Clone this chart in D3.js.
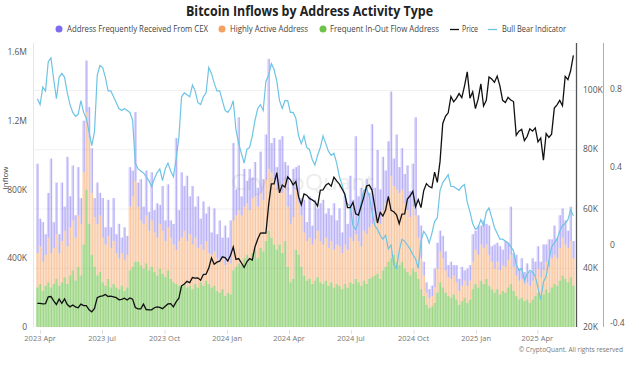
<!DOCTYPE html>
<html><head><meta charset="utf-8">
<script src="https://cdn.jsdelivr.net/npm/d3@7"></script>
<style>body{margin:0;background:#fff;} svg{display:block;font-family:"Open Sans",sans-serif;}</style>
</head><body><svg id="c" width="639" height="365"></svg>
<script>
// ---- data (sampled every 4 days starting 2023-03-26) ----
const startDate = "2023-03-26";
const stepDays = 4;
const endDate = "2025-05-22";
// BTC price, thousands USD
const price = [28.0,28.0,27.8,27.9,30.2,30.3,28.8,27.6,29.4,28.0,29.5,27.6,26.8,27.4,26.8,26.5,27.7,27.2,27.2,25.8,25.1,26.3,29.9,30.3,30.5,31.0,30.3,30.4,30.2,29.9,29.2,29.3,29.7,29.1,29.8,29.4,26.6,26.1,26.1,27.7,25.9,25.8,25.8,26.5,26.8,26.6,26.2,27.0,27.8,27.9,26.8,28.5,29.7,33.9,34.5,35.4,35.0,36.7,36.5,36.6,35.8,37.7,37.8,39.9,43.3,41.2,41.9,42.2,43.7,43.4,42.3,
44.2,47.0,42.8,43.1,41.6,40.1,42.0,43.1,42.6,47.1,49.7,51.7,51.8,51.7,61.2,68.3,68.3,72.1,65.3,67.9,67.2,70.7,69.7,68.0,69.1,64.0,61.3,64.9,64.5,63.4,62.9,62.3,60.8,66.2,66.3,67.9,68.5,67.5,70.6,69.3,68.2,66.6,64.9,60.3,60.3,62.1,58.2,57.8,60.8,63.9,67.6,67.9,66.2,60.7,55.1,58.7,57.5,59.5,64.1,59.4,58.9,57.9,54.9,58.1,58.2,63.2,64.3,65.8,60.6,63.0,60.3,66.0,68.4,67.4,67.0,72.3,68.8,75.9,88.7,91.1,92.3,97.8,96.0,97.2,98.8,97.4,101.4,106.1,97.2,99.4,93.7,
96.9,102.1,94.6,96.5,104.4,103.7,102.6,104.7,101.4,96.5,95.8,97.5,96.6,96.1,84.7,86.1,86.7,82.9,84.3,86.9,86.1,87.2,82.5,83.8,76.3,85.3,84.0,85.1,93.9,95.0,96.5,94.7,104.6,103.5,106.5,111.7];
const bullBear = [0.75,0.72,0.81,0.79,0.94,0.96,0.85,0.75,0.86,0.88,
0.86,0.78,0.72,0.68,0.66,0.67,0.74,0.68,0.65,0.58,
0.51,0.58,0.87,0.92,0.91,0.86,0.79,0.79,0.76,0.73,
0.70,0.69,0.70,0.69,0.68,0.64,0.42,0.39,0.38,0.37,
0.35,0.33,0.30,0.34,0.37,0.39,0.33,0.39,0.42,0.38,
0.35,0.44,0.55,0.76,0.78,0.77,0.76,0.82,0.79,0.73,
0.72,0.76,0.78,0.91,0.88,0.83,0.79,0.79,0.74,0.69,
0.68,0.70,0.74,0.59,0.52,0.47,0.42,0.49,0.50,0.56,
0.64,0.70,0.72,0.69,0.84,0.87,0.93,0.90,0.84,0.74,
0.70,0.74,0.74,0.68,0.68,0.65,0.56,0.52,0.56,0.50,
0.49,0.44,0.41,0.46,0.50,0.56,0.52,0.48,0.46,0.47,
0.42,0.35,0.31,0.25,0.21,0.20,0.10,0.08,0.12,0.22,
0.28,0.29,0.25,0.17,0.10,0.08,0.05,0.03,0.05,-0.02,
0.00,-0.10,-0.12,-0.03,0.03,0.02,0.00,-0.02,-0.05,-0.07,
-0.12,0.02,0.07,0.05,0.01,0.06,0.12,0.14,0.28,0.32,
0.34,0.36,0.30,0.30,0.29,0.28,0.30,0.31,0.22,0.17,
0.11,0.08,0.09,0.13,0.10,0.17,0.19,0.14,0.09,0.06,
0.03,0.03,0.02,0.01,-0.01,-0.03,-0.10,-0.13,-0.12,-0.18,
-0.15,-0.13,-0.14,-0.16,-0.22,-0.28,-0.19,-0.16,-0.08,-0.01,
0.01,0.03,0.07,0.10,0.11,0.13,0.18,0.15];
// inflows in thousands (stacked: green bottom, orange middle, purple top)
const frequentInOut = [230,250,210,240,260,230,250,280,240,260,290,250,300,330,270,350,300,480,800,600,420,350,300,320,260,240,280,230,250,230,220,240,210,230,330,350,380,380,360,340,370,330,350,320,300,340,310,290,330,280,260,250,240,240,250,230,240,220,250,230,260,240,270,250,230,240,210,200,220,180,200,190,330,350,370,360,400,420,390,430,450,400,460,440,500,560,520,480,450,480,430,500,350,260,280,450,420,350,300,270,280,250,270,290,260,250,270,240,260,230,250,240,220,250,230,260,250,280,260,240,270,250,280,290,300,310,280,330,350,380,400,420,380,360,380,340,320,300,340,320,280,220,180,130,110,120,140,200,260,230,200,180,170,190,160,130,150,170,140,160,220,250,230,270,250,280,240,220,200,220,190,210,200,230,250,210,180,160,170,150,160,140,160,180,200,170,190,220,200,230,250,240,270,300,280,260,290,240];
const highlyActive = [200,220,170,180,260,200,210,260,190,240,270,220,280,290,250,300,300,420,450,500,360,290,300,330,260,240,250,230,250,200,180,190,180,190,370,410,470,320,260,260,280,230,270,230,220,260,250,210,250,240,220,200,260,280,310,270,300,260,270,230,220,210,230,180,190,200,190,180,180,180,190,180,290,300,310,290,300,300,290,320,310,300,320,300,360,360,380,380,350,340,350,350,350,340,360,350,300,300,250,230,240,230,240,270,240,230,250,220,240,220,230,230,210,230,220,260,250,260,240,230,290,290,300,310,320,340,320,350,370,380,480,400,420,420,420,380,360,340,360,330,240,180,120,70,60,60,90,140,180,170,130,110,110,110,100,80,90,100,100,110,160,200,190,210,210,200,180,160,140,160,140,150,150,160,170,140,120,110,110,100,100,100,110,120,140,120,140,160,150,170,170,160,190,220,200,200,210,160];
const cexInflow = [520,160,230,120,260,550,150,300,110,340,140,520,180,320,130,280,150,300,300,180,260,110,240,130,230,100,210,120,250,110,200,90,190,110,230,150,400,140,240,100,260,110,280,130,200,110,260,120,250,100,
120,650,180,380,260,380,220,340,180,300,150,280,160,270,130,250,140,240,120,230,130,250,450,150,540,110,220,130,240,120,200,110,240,120,260,640,170,240,130,270,330,110,240,170,280,130,220,100,190,110,
240,110,230,130,220,260,140,230,150,270,140,220,120,280,150,360,240,570,260,340,220,320,200,580,190,380,200,310,190,320,490,160,320,150,240,170,260,150,250,570,130,190,80,60,50,60,110,150,120,130,
110,70,100,60,100,70,110,60,100,90,160,110,170,110,160,120,170,90,140,110,140,90,150,100,280,80,120,70,120,70,110,80,130,80,130,90,150,100,160,110,170,120,190,170,140,100,200,100];
const leftTicks = [0,400,800,1200,1600];
const leftTickLabels = ["0","400K","800K","1.2M","1.6M"];
const priceTicks = [20,40,60,80,100];
const priceTickLabels = ["20K","40K","60K","80K","100K"];
const bbTicks = [-0.4,0,0.4,0.8];
const bbTickLabels = ["-0.4","0","0.4","0.8"];
const xTickDates = ["2023-04-01","2023-07-01","2023-10-01","2024-01-01","2024-04-01","2024-07-01","2024-10-01","2025-01-01","2025-04-01"];
const xTickLabels = ["2023 Apr","2023 Jul","2023 Oct","2024 Jan","2024 Apr","2024 Jul","2024 Oct","2025 Jan","2025 Apr"];
const seriesNames = ["Address Frequently Received From CEX","Highly Active Address","Frequent In-Out Flow Address","Price","Bull Bear Indicator"];
const colors = {cex:"#7b6cf0", active:"#f4a261", inout:"#6cc24a", price:"#111", bb:"#6ec4e4"};
const fillOpacity = {cex:0.28, active:0.36, inout:0.48};

// ---- build ----
const parse = d3.utcParse("%Y-%m-%d");
const t0 = parse(startDate);
const dates = price.map((_, i) => d3.utcDay.offset(t0, i * stepDays));
const svg = d3.select("#c");
const L = 36, R = 572, TOP = 43, BOT = 327;

const x = d3.scaleUtc().domain([t0, parse(endDate)]).range([L, R]);
const yL = d3.scaleLinear().domain([0, 1600]).range([BOT, 52]);
const yP = d3.scaleLinear().domain([20, 100]).range([BOT, 90]);
const yB = d3.scaleLinear().domain([-0.4, 0.8]).range([323, 89]);

svg.append("defs").append("clipPath").attr("id","clip").append("rect")
  .attr("x", 33).attr("y", TOP).attr("width", 576-33).attr("height", BOT-TOP);

// gridlines
svg.append("g").selectAll("line").data(priceTicks.slice(1)).join("line")
  .attr("x1", 34).attr("x2", 576).attr("y1", d=>yP(d)+0.5).attr("y2", d=>yP(d)+0.5)
  .attr("stroke", "#f1f1f1");

// watermark
svg.append("text").attr("x", 231).attr("y", 190).attr("font-size", 22).attr("fill", "#000")
  .attr("opacity", 0.07).attr("textLength", 143).attr("lengthAdjust","spacingAndGlyphs").text("CryptoQuant");

// bars
const step = x(dates[1]) - x(dates[0]);
const stackData = dates.map((d,i)=>({date:d, inout:frequentInOut[i], active:highlyActive[i], cex:cexInflow[i]}));
const stacked = d3.stack().keys(["inout","active","cex"])(stackData);
const gBars = svg.append("g").attr("clip-path","url(#clip)");
const layers = gBars.selectAll("g").data(stacked).join("g").attr("fill", d => colors[d.key]);
layers.selectAll("rect.b").data(d => d.map(v => ({v, k:d.key}))).join("rect").attr("class","b")
  .attr("fill-opacity", d => fillOpacity[d.k])
  .attr("x", d => x(d.v.data.date))
  .attr("width", step)
  .attr("y", d => yL(d.v[1]))
  .attr("height", d => yL(d.v[0]) - yL(d.v[1]));
layers.selectAll("rect.s").data(d => d.map(v => ({v, k:d.key}))).join("rect").attr("class","s")
  .attr("fill-opacity", 0.45)
  .attr("x", d => x(d.v.data.date) + step*0.55)
  .attr("width", 0.8)
  .attr("y", d => yL(d.v[1]))
  .attr("height", d => yL(d.v[0]) - yL(d.v[1]));

// bull bear & price lines
const gLines = svg.append("g").attr("clip-path","url(#clip)");
gLines.append("path").datum(bullBear)
  .attr("fill","none").attr("stroke", colors.bb).attr("stroke-width", 1.2)
  .attr("d", d3.line().x((d,i)=>x(dates[i])+step/2).y(d=>yB(d)));
gLines.append("path").datum(price)
  .attr("fill","none").attr("stroke", colors.price).attr("stroke-width", 1.3)
  .attr("d", d3.line().x((d,i)=>x(dates[i])+step/2).y(d=>yP(d)));

// axis lines
svg.append("line").attr("x1",33.5).attr("x2",33.5).attr("y1",TOP).attr("y2",BOT).attr("stroke","#e6e6e6");
svg.append("line").attr("x1",576.5).attr("x2",576.5).attr("y1",TOP).attr("y2",BOT).attr("stroke","#555").attr("stroke-width",1.3);
svg.append("line").attr("x1",603.5).attr("x2",603.5).attr("y1",TOP).attr("y2",BOT).attr("stroke",colors.bb);

const tickFont = 8.5, tickCol = "#555";
svg.append("g").selectAll("text").data(leftTicks).join("text")
  .attr("x", 27).attr("y", d=>yL(d)+3).attr("text-anchor","end")
  .attr("font-size", tickFont).attr("fill", tickCol).text((d,i)=>leftTickLabels[i]);
svg.append("g").selectAll("text").data(priceTicks).join("text")
  .attr("x", 583).attr("y", d=>yP(d)+3).attr("font-size", tickFont).attr("fill", tickCol)
  .text((d,i)=>priceTickLabels[i]);
svg.append("g").selectAll("text").data(bbTicks).join("text")
  .attr("x", 610).attr("y", d=>yB(d)+3).attr("font-size", tickFont).attr("fill", tickCol)
  .text((d,i)=>bbTickLabels[i]);

// x axis
const xt = xTickDates.map(parse);
svg.append("g").selectAll("line").data(xt).join("line")
  .attr("x1", d=>x(d)+0.5).attr("x2", d=>x(d)+0.5).attr("y1", 330).attr("y2", 334)
  .attr("stroke", "#ddd");
svg.append("g").selectAll("text").data(xt).join("text")
  .attr("x", d=>x(d)).attr("y", 341).attr("text-anchor","middle")
  .attr("font-size", 7.5).attr("fill", "#777").text((d,i)=>xTickLabels[i]);

// y label
svg.append("text").attr("transform","translate(8,178) rotate(-90)").attr("text-anchor","middle")
  .attr("font-size", 8).attr("fill","#444").text("Inflow");

// title
svg.append("text").attr("x", 186).attr("y", 16).attr("font-size", 14).attr("font-weight", "bold")
  .attr("fill","#222").attr("textLength", 247).attr("lengthAdjust","spacingAndGlyphs")
  .text("Bitcoin Inflows by Address Activity Type");

// legend
const lg = svg.append("g").attr("font-size", 8.5).attr("fill", "#444");
const legendItems = [
  {type:"dot", c:colors.cex, mx:59, tx:67, tw:141},
  {type:"dot", c:colors.active, mx:222, tx:230, tw:78},
  {type:"dot", c:colors.inout, mx:323, tx:330, tw:109},
  {type:"line", c:colors.price, mx:450, tx:462, tw:16},
  {type:"line", c:colors.bb, mx:488, tx:502, tw:64}
];
legendItems.forEach((it, i) => {
  if (it.type === "dot") lg.append("circle").attr("cx", it.mx).attr("cy", 29).attr("r", 3.5).attr("fill", it.c);
  else lg.append("line").attr("x1", it.mx).attr("x2", it.mx + 9).attr("y1", 29.5).attr("y2", 29.5).attr("stroke", it.c).attr("stroke-width", 1.3);
  lg.append("text").attr("x", it.tx).attr("y", 32).attr("textLength", it.tw).attr("lengthAdjust","spacingAndGlyphs").text(seriesNames[i]);
});

// copyright
svg.append("text").attr("x", 623).attr("y", 352).attr("text-anchor","end").attr("font-size", 6.5)
  .attr("fill","#777").text("© CryptoQuant. All rights reserved");
</script></body></html>
